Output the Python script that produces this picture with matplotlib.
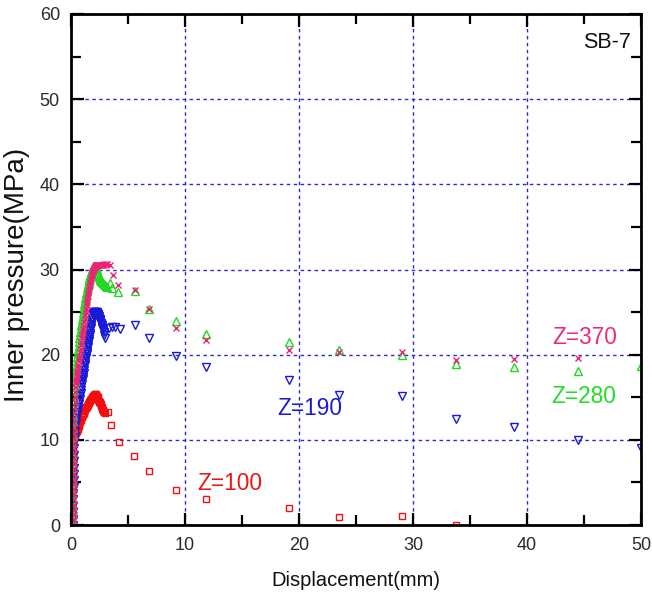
import matplotlib
matplotlib.use("Agg")
import matplotlib.pyplot as plt
from matplotlib.ticker import MultipleLocator

# ---- data: displacement (mm) vs inner pressure (MPa) at four gauge positions ----
# Z=100 (squares)
z100_x = [0.12, 0.12, 0.12, 0.12, 0.12, 0.12, 0.12, 0.12, 0.13, 0.13,
          0.13, 0.13, 0.14, 0.14, 0.14, 0.15, 0.15, 0.16, 0.16, 0.17,
          0.18, 0.22, 0.26, 0.30, 0.34, 0.38, 0.42, 0.46, 0.50, 0.54,
          0.58, 0.62, 0.66, 0.70, 0.74, 0.78, 0.82, 0.86, 0.90, 0.94,
          0.98, 1.02, 1.06, 1.10, 1.14, 1.18, 1.22, 1.26, 1.30, 1.34,
          1.38, 1.42, 1.46, 1.50, 1.54, 1.58, 1.62, 1.66, 1.70, 1.74,
          1.78, 1.82, 1.86, 1.90, 1.94, 1.98, 2.02, 2.06, 2.10, 2.14,
          2.18, 2.22, 2.26, 2.30, 2.33, 2.37, 2.40, 2.44, 2.47, 2.52,
          2.57, 2.61, 2.65, 2.69, 2.72, 2.76, 2.80, 2.84, 2.88, 2.92,
          2.95, 3.25, 3.54, 4.18, 5.55, 6.84, 9.24, 11.82, 19.12, 23.48,
          29.04, 33.77]
z100_y = [0.0, 0.5, 1.0, 1.5, 2.0, 2.5, 3.0, 3.5, 4.0, 4.5,
          5.0, 5.5, 6.0, 6.5, 7.0, 7.5, 8.0, 8.5, 9.0, 9.4,
          9.8, 10.1, 10.3, 10.45, 10.55, 10.65, 10.8, 10.9, 11.0, 11.15,
          11.3, 11.45, 11.6, 11.75, 11.9, 12.05, 12.2, 12.35, 12.5, 12.65,
          12.8, 12.9, 13.0, 13.1, 13.2, 13.35, 13.45, 13.6, 13.7, 13.8,
          13.9, 14.0, 14.1, 14.2, 14.3, 14.4, 14.5, 14.6, 14.7, 14.8,
          14.85, 14.95, 15.0, 15.1, 15.15, 15.2, 15.25, 15.3, 15.35, 15.35,
          15.35, 15.3, 15.2, 15.1, 15.0, 14.85, 14.7, 14.6, 14.5, 14.4,
          14.3, 14.15, 14.0, 13.85, 13.7, 13.6, 13.5, 13.4, 13.3, 13.25,
          13.2, 13.3, 11.7, 9.7, 8.1, 6.3, 4.1, 3.1, 2.0, 0.9,
          1.1, 0.0]

# Z=190 (down triangles)
z190_x = [0.20, 0.20, 0.20, 0.21, 0.21, 0.21, 0.22, 0.22, 0.23, 0.24,
          0.25, 0.26, 0.27, 0.29, 0.31, 0.33, 0.37, 0.41, 0.44, 0.48,
          0.52, 0.56, 0.60, 0.64, 0.68, 0.72, 0.76, 0.80, 0.84, 0.88,
          0.92, 0.96, 1.00, 1.03, 1.06, 1.09, 1.12, 1.15, 1.18, 1.21,
          1.24, 1.27, 1.30, 1.33, 1.36, 1.39, 1.42, 1.45, 1.48, 1.51,
          1.54, 1.57, 1.60, 1.63, 1.66, 1.69, 1.72, 1.75, 1.78, 1.81,
          1.84, 1.87, 1.90, 1.93, 1.96, 2.00, 2.04, 2.08, 2.12, 2.16,
          2.20, 2.24, 2.28, 2.32, 2.37, 2.40, 2.43, 2.46, 2.50, 2.53,
          2.57, 2.61, 2.65, 2.68, 2.72, 2.76, 2.80, 2.84, 2.87, 2.91,
          2.95, 3.30, 3.60, 3.89, 4.33, 5.61, 6.84, 9.24, 11.82, 19.12,
          23.48, 29.04, 33.77, 38.89, 44.50, 50.00]
z190_y = [0.0, 0.75, 1.5, 2.25, 3.0, 3.75, 4.5, 5.25, 6.0, 6.75,
          7.5, 8.25, 9.0, 9.75, 10.5, 11.0, 11.6, 12.0, 12.3, 12.6,
          13.0, 13.3, 13.6, 13.9, 14.2, 14.5, 14.8, 15.15, 15.5, 15.85,
          16.2, 16.55, 16.9, 17.15, 17.4, 17.65, 17.9, 18.2, 18.5, 18.75,
          19.0, 19.3, 19.6, 19.85, 20.1, 20.35, 20.6, 20.85, 21.1, 21.35,
          21.6, 21.85, 22.1, 22.35, 22.6, 22.85, 23.1, 23.35, 23.6, 23.85,
          24.1, 24.35, 24.6, 24.8, 24.9, 25.0, 25.0, 25.0, 25.0, 25.0,
          25.0, 25.0, 24.9, 24.85, 24.8, 24.65, 24.5, 24.35, 24.2, 24.05,
          23.9, 23.75, 23.6, 23.45, 23.3, 23.15, 23.0, 22.85, 22.7, 22.3,
          21.9, 23.1, 23.2, 23.2, 23.0, 23.5, 22.0, 19.8, 18.6, 17.0,
          15.3, 15.1, 12.5, 11.5, 10.0, 9.0]

# Z=280 (up triangles)
z280_x = [0.08, 0.08, 0.08, 0.08, 0.09, 0.09, 0.09, 0.10, 0.10, 0.11,
          0.11, 0.12, 0.12, 0.13, 0.14, 0.155, 0.17, 0.19, 0.21, 0.235,
          0.26, 0.29, 0.32, 0.355, 0.39, 0.425, 0.46, 0.50, 0.54, 0.58,
          0.62, 0.66, 0.70, 0.74, 0.78, 0.82, 0.86, 0.90, 0.94, 0.98,
          1.02, 1.06, 1.10, 1.14, 1.18, 1.22, 1.26, 1.30, 1.34, 1.38,
          1.42, 1.46, 1.50, 1.54, 1.58, 1.62, 1.66, 1.70, 1.74, 1.78,
          1.82, 1.86, 1.90, 1.94, 1.98, 2.02, 2.06, 2.10, 2.15, 2.20,
          2.25, 2.30, 2.35, 2.40, 2.45, 2.50, 2.54, 2.60, 2.66, 2.72,
          2.78, 2.86, 2.95, 3.04, 3.13, 3.42, 3.57, 4.15, 5.61, 6.84,
          9.24, 11.82, 19.12, 23.48, 29.04, 33.77, 38.89, 44.50, 50.00]
z280_y = [0.0, 0.75, 1.5, 2.25, 3.0, 3.75, 4.5, 5.25, 6.0, 6.75,
          7.5, 8.25, 9.0, 9.8, 10.6, 11.4, 12.2, 12.95, 13.7, 14.4,
          15.1, 15.75, 16.4, 17.0, 17.6, 18.15, 18.7, 19.2, 19.7, 20.15,
          20.6, 21.05, 21.5, 21.9, 22.3, 22.7, 23.1, 23.45, 23.8, 24.15,
          24.5, 24.85, 25.2, 25.55, 25.9, 26.25, 26.6, 26.9, 27.2, 27.5,
          27.8, 28.05, 28.3, 28.55, 28.8, 29.0, 29.2, 29.4, 29.6, 29.75,
          29.9, 30.0, 30.1, 30.2, 30.3, 30.35, 30.4, 30.4, 30.4, 30.2,
          30.0, 29.75, 29.5, 29.3, 29.1, 28.95, 28.8, 28.7, 28.6, 28.5,
          28.4, 28.3, 28.2, 28.1, 28.0, 28.4, 27.8, 27.3, 27.5, 25.4,
          23.9, 22.4, 21.5, 20.5, 20.0, 18.9, 18.6, 18.1, 18.7]

# Z=370 (crosses)
z370_x = [0.22, 0.22, 0.22, 0.22, 0.22, 0.22, 0.23, 0.23, 0.23, 0.23,
          0.23, 0.24, 0.24, 0.24, 0.24, 0.25, 0.25, 0.26, 0.26, 0.27,
          0.28, 0.29, 0.30, 0.315, 0.33, 0.345, 0.36, 0.38, 0.40, 0.43,
          0.46, 0.50, 0.53, 0.565, 0.60, 0.64, 0.68, 0.72, 0.76, 0.80,
          0.84, 0.88, 0.92, 0.96, 1.00, 1.04, 1.08, 1.12, 1.16, 1.20,
          1.24, 1.28, 1.32, 1.36, 1.40, 1.44, 1.48, 1.52, 1.56, 1.60,
          1.64, 1.68, 1.72, 1.76, 1.80, 1.84, 1.88, 1.92, 1.96, 2.00,
          2.04, 2.08, 2.12, 2.16, 2.20, 2.24, 2.28, 2.34, 2.40, 2.48,
          2.55, 2.63, 2.72, 2.81, 2.90, 3.03, 3.16, 3.42, 3.71, 4.15,
          5.61, 6.84, 9.24, 11.82, 19.12, 23.48, 29.04, 33.77, 38.89, 44.50]
z370_y = [0.0, 0.6, 1.2, 1.8, 2.4, 3.0, 3.6, 4.2, 4.8, 5.4,
          6.0, 6.6, 7.2, 7.8, 8.4, 9.0, 9.6, 10.2, 10.8, 11.4,
          12.0, 12.6, 13.2, 13.8, 14.4, 15.0, 15.6, 16.15, 16.7, 16.95,
          17.2, 17.5, 17.8, 18.1, 18.4, 18.8, 19.2, 19.55, 19.9, 20.3,
          20.7, 21.1, 21.5, 21.9, 22.3, 22.65, 23.0, 23.4, 23.8, 24.2,
          24.6, 25.0, 25.4, 25.8, 26.2, 26.55, 26.9, 27.25, 27.6, 27.9,
          28.2, 28.5, 28.8, 29.05, 29.3, 29.5, 29.7, 29.85, 30.0, 30.1,
          30.2, 30.3, 30.4, 30.45, 30.5, 30.5, 30.5, 30.5, 30.5, 30.5,
          30.5, 30.5, 30.5, 30.55, 30.6, 30.6, 30.6, 30.5, 29.4, 28.2,
          27.6, 25.4, 23.1, 21.7, 20.5, 20.35, 20.35, 19.4, 19.45, 19.6]

x_ticks = [0, 10, 20, 30, 40, 50]
y_ticks = [0, 10, 20, 30, 40, 50, 60]

FONT = "Liberation Sans"

fig = plt.figure(figsize=(6.52, 6.02), dpi=100)
ax = fig.add_axes([71 / 652, 77 / 602, 570 / 652, 511 / 602])

ax.set_xlim(0, 50)
ax.set_ylim(0, 60)
ax.set_xticks(x_ticks)
ax.set_yticks(y_ticks)
ax.xaxis.set_minor_locator(MultipleLocator(5))
ax.yaxis.set_minor_locator(MultipleLocator(5))

grid_blue = "#2a2ad0"
ax.grid(which="major", color=grid_blue, linestyle=(0, (2.5, 2.5)), linewidth=1.0, zorder=0)
ax.set_axisbelow(True)

for s in ax.spines.values():
    s.set_linewidth(2.0)
    s.set_zorder(10)

ax.tick_params(which="both", direction="in", top=True, right=True, width=1.6, color="black")
ax.tick_params(which="major", length=9)
ax.tick_params(which="minor", length=7)
ax.tick_params(axis="x", which="major", pad=9)
ax.tick_params(axis="y", which="major", pad=8)
for lab in ax.get_xticklabels() + ax.get_yticklabels():
    lab.set_fontfamily(FONT)
    lab.set_fontsize(13)
    lab.set_color("#2a2a2a")

# ---- series ----
ax.plot(z100_x, z100_y, linestyle="none", marker="s", markersize=4.2,
        markerfacecolor="none", markeredgecolor="#f01010", markeredgewidth=1.0, zorder=3)
ax.plot(z190_x, z190_y, linestyle="none", marker="v", markersize=5.8,
        markerfacecolor="none", markeredgecolor="#1818d8", markeredgewidth=1.0, zorder=4)
ax.plot(z280_x, z280_y, linestyle="none", marker="^", markersize=5.8,
        markerfacecolor="none", markeredgecolor="#22d822", markeredgewidth=1.0, zorder=5)
ax.plot(z370_x, z370_y, linestyle="none", marker="x", markersize=5.0,
        markeredgecolor="#f0207a", markeredgewidth=1.0, zorder=6)

# ---- annotations ----
label_size = 16.3
ax.text(11.05, 4.1, "Z=100", color="#ee1515", fontsize=label_size, fontfamily=FONT,
        va="baseline", ha="left")
ax.text(18.07, 12.94, "Z=190", color="#1a1ad8", fontsize=label_size, fontfamily=FONT,
        va="baseline", ha="left")
ax.text(42.2, 21.23, "Z=370", color="#ee2a7b", fontsize=label_size, fontfamily=FONT,
        va="baseline", ha="left")
ax.text(42.15, 14.32, "Z=280", color="#22dd22", fontsize=label_size, fontfamily=FONT,
        va="baseline", ha="left")
ax.text(44.94, 55.97, "SB-7", color="#111111", fontsize=15.5, fontfamily=FONT,
        va="baseline", ha="left")

ax.set_xlabel("Displacement(mm)", fontsize=14.5, fontfamily=FONT, color="#111111")
ax.set_ylabel("Inner pressure(MPa)", fontsize=20, fontfamily=FONT, color="#111111")
ax.xaxis.set_label_coords(0.5, -0.090)
ax.yaxis.set_label_coords(-0.072, 0.489)

fig.savefig("out.png", dpi=100)
